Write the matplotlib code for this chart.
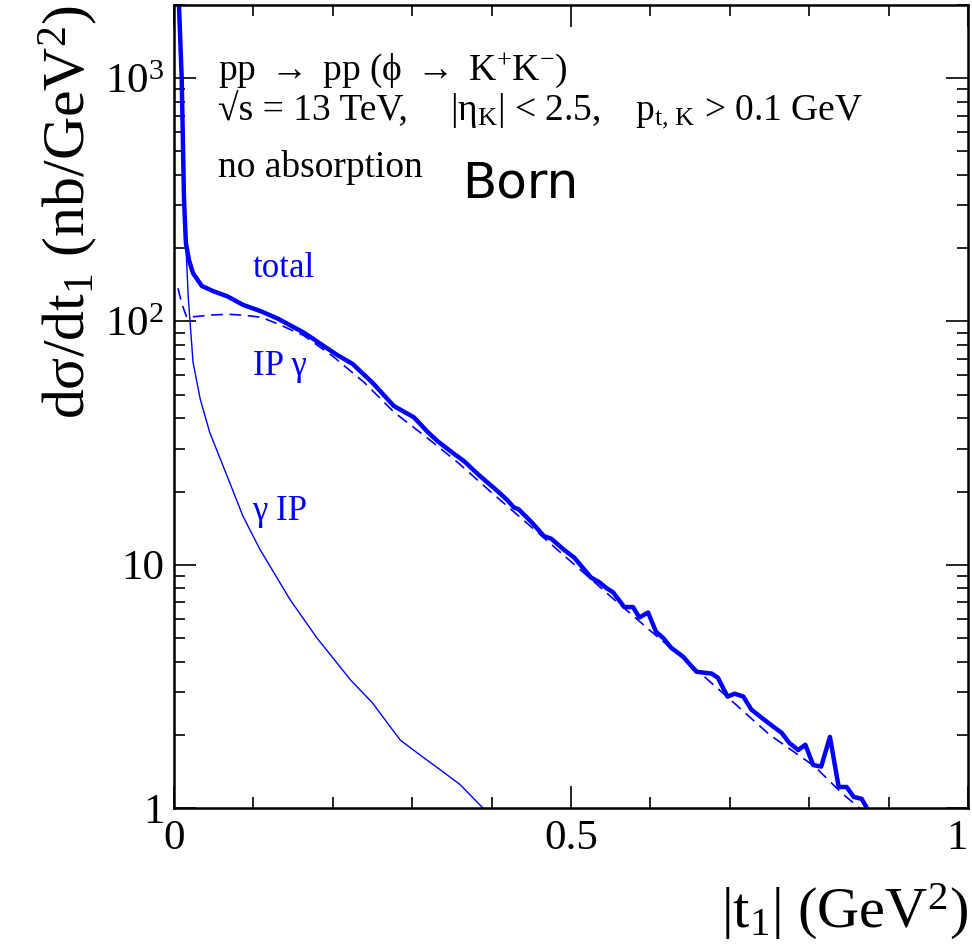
import matplotlib
matplotlib.use('Agg')
import matplotlib.pyplot as plt
from matplotlib.ticker import MultipleLocator, LogLocator, NullFormatter

plt.rcParams['font.family'] = ['Liberation Serif', 'DejaVu Serif']
plt.rcParams['mathtext.fontset'] = 'custom'
plt.rcParams['mathtext.rm'] = 'Liberation Serif'
plt.rcParams['mathtext.it'] = 'Liberation Serif:italic'
plt.rcParams['mathtext.bf'] = 'Liberation Serif:bold'
plt.rcParams['mathtext.fallback'] = 'stix'

# total (thick line)
t_total = [0.0063, 0.0097, 0.0126, 0.015, 0.019, 0.024, 0.035, 0.050, 0.067, 0.087,
           0.110, 0.130, 0.162, 0.175, 0.188, 0.205, 0.225, 0.250, 0.277, 0.290,
           0.302, 0.320, 0.332, 0.350, 0.365, 0.385, 0.408, 0.420, 0.428, 0.434,
           0.450, 0.466, 0.475, 0.490, 0.504, 0.515, 0.525, 0.535, 0.545, 0.553,
           0.567, 0.578, 0.586, 0.597, 0.607, 0.616, 0.626, 0.641, 0.658, 0.677,
           0.685, 0.697, 0.706, 0.717, 0.727, 0.740, 0.753, 0.765, 0.775, 0.786,
           0.795, 0.805, 0.815, 0.826, 0.837, 0.847, 0.856, 0.866, 0.874]
total = [2000, 1000, 320, 210, 178, 158, 140, 133, 127, 117,
         110, 103, 90.6, 85, 79.5, 73, 66.9, 56, 44.9, 42.5,
         40.4, 35, 32.2, 29, 26.7, 23.2, 20.0, 18.4, 17.2, 16.9,
         15.0, 13.1, 12.8, 11.6, 10.7, 9.7, 8.87, 8.5, 8.0, 7.7,
         6.7, 6.7, 6.07, 6.36, 5.3, 5.0, 4.56, 4.19, 3.63, 3.57,
         3.43, 2.87, 2.95, 2.87, 2.54, 2.35, 2.18, 2.04, 1.85, 1.73,
         1.82, 1.50, 1.48, 1.96, 1.22, 1.22, 1.11, 1.09, 0.98]

# IP gamma (dashed)
t_ipg = [0.005, 0.010, 0.016, 0.030, 0.050, 0.070, 0.090, 0.110, 0.130, 0.163,
         0.200, 0.240, 0.277, 0.320, 0.357, 0.400, 0.450, 0.500, 0.550, 0.600,
         0.650, 0.700, 0.750, 0.807, 0.841, 0.880]
ipg = [137, 118, 104, 105, 106.5, 107, 106, 104, 98, 87.7,
       72, 56, 42.4, 33, 26.4, 19.8, 14.3, 10.3, 7.4, 5.35,
       3.9, 2.8, 2.0, 1.48, 1.15, 0.9]

# gamma IP (thin)
t_gip = [0.0063, 0.0097, 0.0126, 0.015, 0.018, 0.021, 0.024, 0.033, 0.045, 0.067,
         0.087, 0.108, 0.146, 0.180, 0.222, 0.250, 0.285, 0.310, 0.336, 0.360,
         0.389, 0.400]
gip = [2000, 1000, 330, 205, 125, 92, 68, 48, 35, 23.1,
       15.8, 11.6, 7.2, 5.0, 3.37, 2.7, 1.9, 1.65, 1.43, 1.25,
       1.0, 0.93]

fig = plt.figure(figsize=(9.72, 9.49), dpi=100)
ax = fig.add_axes([0.179, 0.1486, 0.817, 0.8461])

blue = '#0000ff'
ax.plot(t_total, total, color=blue, lw=3.2)
ax.plot(t_ipg, ipg, color=blue, lw=1.2, dashes=(7, 4))
ax.plot(t_gip, gip, color=blue, lw=1.0)

ax.set_yscale('log')
ax.set_xlim(0, 1)
ax.set_ylim(1, 2000)

ax.set_xticks([0, 0.5, 1], ['0', '0.5', '1'])
ax.xaxis.set_minor_locator(MultipleLocator(0.1))
ax.set_yticks([1, 10, 100, 1000], ['1', '10', r'10$^{2}$', r'10$^{3}$'])
ax.yaxis.set_minor_locator(LogLocator(base=10, subs=range(2, 10)))
ax.yaxis.set_minor_formatter(NullFormatter())

ax.tick_params(which='both', direction='in', top=True, right=True, width=1.2)
ax.tick_params(which='major', length=16, labelsize=31)
ax.tick_params(which='minor', length=8)
ax.tick_params(axis='x', pad=8)
ax.tick_params(axis='y', pad=7)
ax.get_xticklabels()[-1].set_ha('right')
for s in ax.spines.values():
    s.set_linewidth(1.8)

ax.set_xlabel(r'|t$_{1}$| (GeV$^{2}$)', fontsize=42, loc='right')
ax.xaxis.set_label_coords(1.0, -0.092)
ax.set_ylabel(r'dσ/dt$_{1}$ (nb/GeV$^{2}$)', fontsize=43, loc='top')
ax.yaxis.set_label_coords(-0.093, 1.0)

# process / cuts annotations (axes fraction, left edges and baselines)
kw = dict(transform=ax.transAxes, fontsize=27, va='baseline')
ax.text(0.0554, 0.9066, r'pp $\rightarrow$ pp (ϕ $\rightarrow$ K$^{+}$K$^{-}$)', **kw)
ax.text(0.0554, 0.8568, r'√s = 13 TeV,', **kw)
ax.text(0.3476, 0.8568, r'|η$_{\rm K}$| < 2.5,', **kw)
ax.text(0.5810, 0.8568, r'p$_{\rm t,\,K}$ > 0.1 GeV', **kw)
ax.text(0.0554, 0.7858, 'no absorption', **kw)
ax.text(0.3627, 0.7609, 'Born', transform=ax.transAxes, fontsize=36,
        family='DejaVu Sans', va='baseline')

lab = dict(transform=ax.transAxes, fontsize=25, color=blue, va='baseline')
ax.text(0.0995, 0.661, 'total', **lab)
ax.text(0.0995, 0.539, 'IP γ', **lab)
ax.text(0.0985, 0.3587, 'γ IP', **lab)

fig.savefig('out.png', dpi=100)
